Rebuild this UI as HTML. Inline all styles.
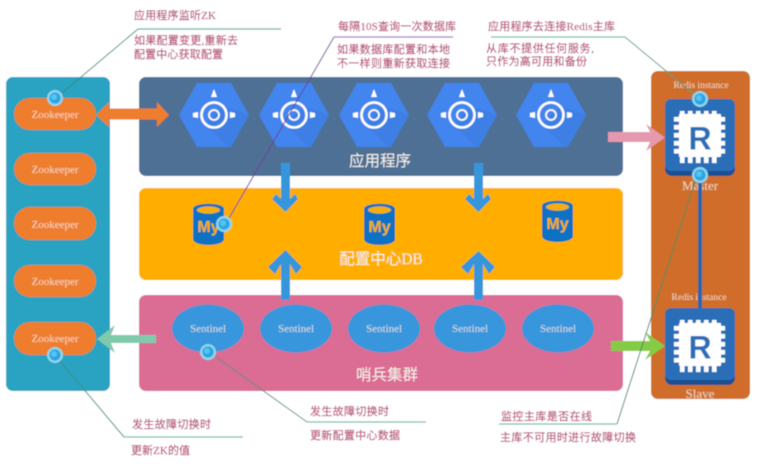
<!DOCTYPE html>
<html><head><meta charset="utf-8">
<style>
html,body{margin:0;padding:0;background:#fff;width:773px;height:464px;overflow:hidden}
svg{display:block}
text{font-family:"Liberation Serif","Noto Sans CJK SC",serif}
.l{font-size:11px;fill:#b64a72;stroke:#b64a72;stroke-width:.15}
.t{font-size:15.5px;fill:#f4f1ea;text-anchor:middle}
.s{font-family:"Liberation Serif","Noto Serif CJK SC",serif;fill:#f3e6d8;fill-opacity:.85;text-anchor:middle}
</style></head><body>
<svg width="773" height="464" viewBox="0 0 773 464" xmlns="http://www.w3.org/2000/svg">
<defs>
<filter id="b" x="-5%" y="-5%" width="110%" height="110%"><feGaussianBlur stdDeviation="0.55"/></filter>
<g id="hex">
<polygon points="-35,0 -17,-32 17,-32 35,0 17,32 -17,32" fill="#4285ee"/>
<polygon points="-9,9 10,-9 35,0 17,32 14,32" fill="#3a76d6" opacity=".4"/>
<circle r="12.5" fill="none" stroke="#fff" stroke-width="2.6"/>
<circle r="5" fill="none" stroke="#fff" stroke-width="1.8"/>
<polygon points="-3,-18 3,-18 0,-26" fill="#fff"/>
<polygon points="-16,-3 -16,3 -21,2 -21,-2" fill="#fff"/>
<polygon points="16,-3 16,3 21,2 21,-2" fill="#fff"/>
</g>
<g id="db">
<path d="M0,5 C0,-2 31,-2 31,5 L31,35 C31,43 0,43 0,35 Z" fill="#0b72c4"/>
<ellipse cx="15.500" cy="6" rx="11.500" ry="3.600" fill="#f6ae0a"/>
<text x="15.500" y="28" text-anchor="middle" style="font-family:'Liberation Sans',sans-serif;font-size:16px;font-weight:bold;fill:#f6ae0a">My</text>
</g>
<g id="red">
<rect x="0" y="3" width="70" height="74" rx="7" fill="#1c4f92"/>
<rect x="0" y="0" width="70" height="72" rx="6" fill="#2b6eb8"/>
<g fill="#fff">
<rect x="14" y="15" width="42" height="43" rx="1"/>
<rect x="15" y="12" width="4.500" height="52"/><rect x="23" y="12" width="4.500" height="52"/><rect x="31" y="12" width="4.500" height="52"/><rect x="39" y="12" width="4.500" height="52"/><rect x="47" y="12" width="4.500" height="52"/>
<rect x="9" y="18" width="51" height="4.500"/><rect x="9" y="26" width="51" height="4.500"/><rect x="9" y="34" width="51" height="4.500"/><rect x="9" y="42" width="51" height="4.500"/><rect x="9" y="50" width="51" height="4.500"/>
</g>
<text x="35" y="50.500" text-anchor="middle" style="font-family:'Liberation Sans',sans-serif;font-size:32px;font-weight:bold;fill:#2b6eb8">R</text>
</g>
<g id="dot">
<circle r="8" fill="#8fd6ea"/>
<circle r="5.600" fill="#2aa5e4"/>
<circle cx="-1" cy="-1" r="3" fill="#55c4f2"/>
</g>
</defs>
<g filter="url(#b)">
<rect width="773" height="464" fill="#fff"/>
<!-- panels -->
<rect x="6" y="77" width="104" height="314" rx="7" fill="#2aa2c2"/>
<rect x="139" y="77" width="484" height="99" rx="7" fill="#4f7095"/>
<rect x="139" y="188" width="484" height="92" rx="7" fill="#ffae00"/>
<rect x="139" y="295" width="484" height="96" rx="7" fill="#db6c94"/>
<rect x="651" y="71" width="99" height="328" rx="7" fill="#d06d2a"/>
<!-- zookeepers -->
<g fill="#ef7d2e">
<rect x="14" y="98" width="82" height="32" rx="16"/>
<rect x="14" y="153" width="82" height="32" rx="16"/>
<rect x="14" y="207" width="82" height="33" rx="16"/>
<rect x="14" y="265" width="82" height="32" rx="16"/>
<rect x="14" y="322" width="82" height="33" rx="16"/>
</g>
<g style="font-size:11px">
<text class="s" x="55" y="118">Zookeeper</text>
<text class="s" x="55" y="173">Zookeeper</text>
<text class="s" x="55" y="228">Zookeeper</text>
<text class="s" x="55" y="285">Zookeeper</text>
<text class="s" x="55" y="342">Zookeeper</text>
</g>
<!-- hexes -->
<use href="#hex" x="214" y="115"/>
<use href="#hex" x="294" y="115"/>
<use href="#hex" x="374" y="115"/>
<use href="#hex" x="462" y="115"/>
<use href="#hex" x="551" y="115"/>
<text class="t" x="380" y="166">应用程序</text>
<!-- db -->
<use href="#db" x="193" y="204"/>
<use href="#db" x="364" y="204"/>
<use href="#db" x="542" y="201"/>
<text class="t" x="381" y="264">配置中心DB</text>
<!-- sentinels -->
<g fill="#3796dc">
<ellipse cx="208" cy="328.500" rx="36" ry="24"/>
<ellipse cx="296" cy="328.500" rx="36" ry="24"/>
<ellipse cx="384" cy="328.500" rx="36" ry="24"/>
<ellipse cx="470" cy="328.500" rx="36" ry="24"/>
<ellipse cx="558" cy="328.500" rx="36" ry="24"/>
</g>
<g style="font-size:11px">
<text class="s" x="208" y="332">Sentinel</text>
<text class="s" x="296" y="332">Sentinel</text>
<text class="s" x="384" y="332">Sentinel</text>
<text class="s" x="470" y="332">Sentinel</text>
<text class="s" x="558" y="332">Sentinel</text>
</g>
<text class="t" x="387" y="380">哨兵集群</text>
<!-- redis -->
<use href="#red" x="665" y="99"/>
<use href="#red" x="665" y="308"/>
<text class="s" x="701" y="88" style="font-size:9.500px">Redis instance</text>
<text class="s" x="700" y="190" style="font-size:13px">Master</text>
<text class="s" x="699" y="300" style="font-size:9.500px">Redis instance</text>
<text class="s" x="700" y="398" style="font-size:13px">Slave</text>
<rect x="698" y="175" width="4" height="133" fill="#2467ad"/>
<!-- arrows -->
<polygon points="96,115 109,102 109,108.500 157,108.500 157,102 169,115 157,127 157,119.500 109,119.500 109,127" fill="#ef7d2e"/>
<polygon points="281,163 290,163 290,199 295,194 298,199 285.500,212 272,199 276,194 281,199" fill="#3496dc"/>
<polygon points="474,163 483,163 483,199 488,194 491,199 478.500,212 465,199 469,194 474,199" fill="#3496dc"/>
<polygon points="281,300 290,300 290,264 296,274 302,267 285.500,250 268,267 275,274 281,264" fill="#3496dc"/>
<polygon points="474,300 483,300 483,264 489,274 495,267 478.500,251 461,267 468,274 474,264" fill="#3496dc"/>
<polygon points="608,132 650,132 646,124 665,137.500 646,151 650,142 608,142" fill="#e599ae"/>
<polygon points="611,341 650,341 645,332 665,346 645,360 650,351 611,351" fill="#86cb45"/>
<polygon points="156,335 111,335 115,325 97,339 115,353 111,343 156,343" fill="#7fcaaa"/>
<!-- leader lines -->
<g fill="none" stroke-width="1">
<polyline points="138,29 62,93" stroke="#2f8f78"/>
<polyline points="334,37 228,220" stroke="#6b3f96"/>
<polyline points="625,37 695,95" stroke="#4f9d80"/>
<polyline points="216,357 307,422" stroke="#4c8d80"/>
<polyline points="60,361 124,437" stroke="#3f8f80"/>
<polyline points="617,424 697,175" stroke="#3f8a5c"/>
</g>
<g fill="none" stroke-width="1.300">
<polyline points="281,29 138,29" stroke="#5fae97"/>
<polyline points="453,37 334,37" stroke="#9a7cc0"/>
<polyline points="491,37 625,37" stroke="#6fbfa5"/>
<polyline points="307,422 426,422" stroke="#6fbfa5"/>
<polyline points="124,437 243,437" stroke="#6fbfa5"/>
<polyline points="499,424 617,424" stroke="#6fbfa5"/>
</g>
<use href="#dot" x="55" y="98"/>
<use href="#dot" x="224" y="224"/>
<use href="#dot" x="208" y="352"/>
<use href="#dot" x="55" y="355"/>
<use href="#dot" x="700" y="99"/>
<use href="#dot" x="700" y="175"/>
<!-- labels -->
<text class="l" x="134" y="19" textLength="82">应用程序监听ZK</text>
<text class="l" x="134" y="44" textLength="104">如果配置变更,重新去</text>
<text class="l" x="134" y="58" textLength="89">配置中心获取配置</text>
<text class="l" x="338" y="30" textLength="118">每隔10S查询一次数据库</text>
<text class="l" x="337" y="53" textLength="113">如果数据库配置和本地</text>
<text class="l" x="337" y="67" textLength="113">不一样则重新获取连接</text>
<text class="l" x="488" y="30" textLength="127">应用程序去连接Redis主库</text>
<text class="l" x="486" y="52" textLength="108">从库不提供任何服务,</text>
<text class="l" x="486" y="65" textLength="101">只作为高可用和备份</text>
<text class="l" x="132" y="428" textLength="79">发生故障切换时</text>
<text class="l" x="131" y="454" textLength="59">更新ZK的值</text>
<text class="l" x="310" y="415" textLength="79">发生故障切换时</text>
<text class="l" x="310" y="439" textLength="90">更新配置中心数据</text>
<text class="l" x="501" y="420" textLength="91">监控主库是否在线</text>
<text class="l" x="500" y="441" textLength="136">主库不可用时进行故障切换</text>
</g>
</svg>
</body></html>
